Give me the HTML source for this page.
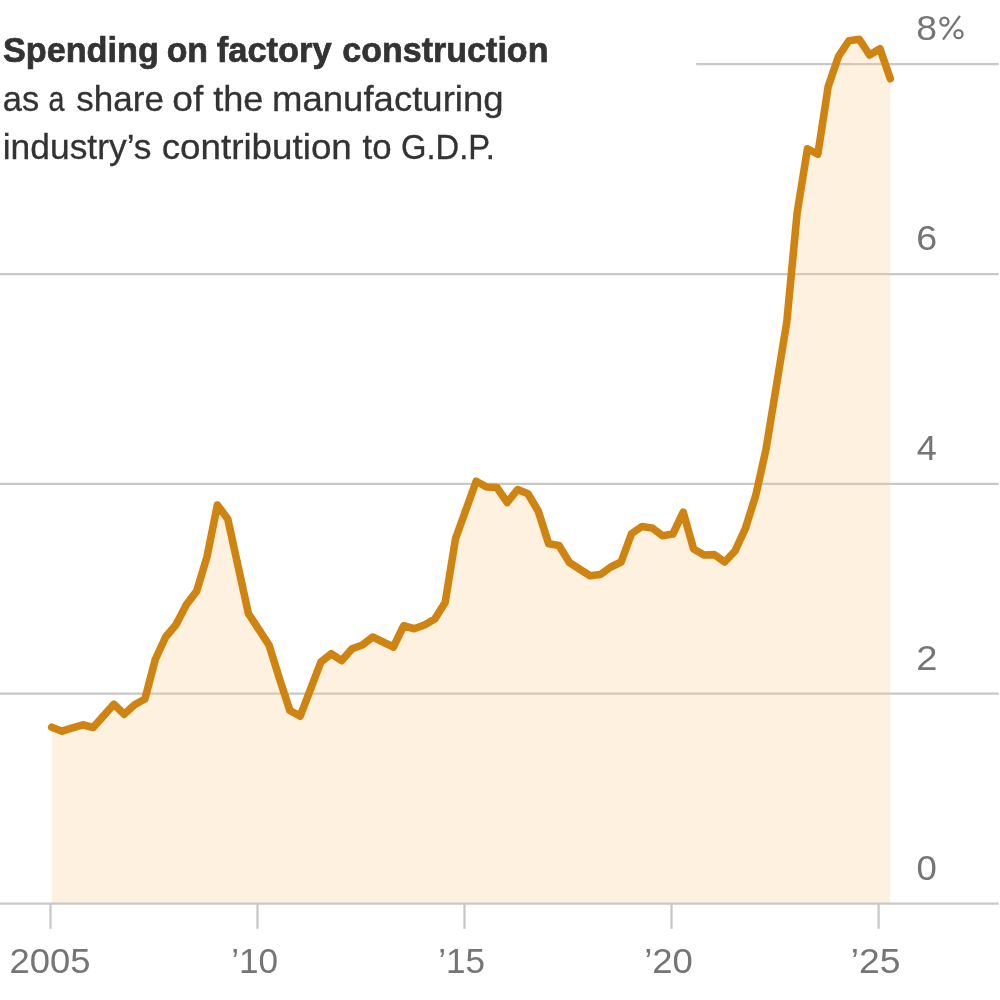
<!DOCTYPE html>
<html><head><meta charset="utf-8"><title>Spending on factory construction</title>
<style>
html,body{margin:0;padding:0;background:#fff;}
body{width:1000px;height:1000px;position:relative;overflow:hidden;font-family:"Liberation Sans",sans-serif;}
svg{position:absolute;left:0;top:0;}
.t{position:absolute;left:0;top:0;white-space:nowrap;transform-origin:0 0;line-height:40px;}
#txt{position:absolute;left:0;top:0;width:1000px;height:1000px;will-change:transform;}
</style></head><body>
<svg width="1000" height="1000" viewBox="0 0 1000 1000">
<g stroke="#c8c8c8" stroke-width="2.3" fill="none">
<line x1="696.2" y1="64.2" x2="998.8" y2="64.2"/>
<line x1="0" y1="274.2" x2="998.8" y2="274.2"/>
<line x1="0" y1="483.8" x2="998.8" y2="483.8"/>
<line x1="0" y1="693.7" x2="998.8" y2="693.7"/>
</g>
<path d="M51.75,727.2 L62.1,731.2 L72.45,727.9 L82.81,724.8 L93.16,727.5 L103.51,715.9 L113.86,704.3 L124.22,714.2 L134.57,704.8 L144.92,699.0 L155.27,659.5 L165.63,637 L175.98,624.7 L186.33,604.7 L196.69,591.1 L207.04,556.5 L217.39,505 L227.74,518.9 L238.09,566.2 L248.45,613.7 L258.8,629.3 L269.15,645.3 L279.5,678.75 L289.86,710.5 L300.21,716.2 L310.56,689.2 L320.91,662 L331.27,653.75 L341.62,660.7 L351.97,648.75 L362.32,645 L372.68,637 L383.03,642 L393.38,647 L403.73,625.75 L414.09,628.75 L424.44,625 L434.79,619 L445.14,602.5 L455.5,538.75 L465.85,510 L476.2,481.25 L486.55,487 L496.91,487.5 L507.26,502.5 L517.61,489.5 L527.96,493.75 L538.32,511.25 L548.67,543.75 L559.02,545.5 L569.38,562.5 L579.73,569.25 L590.08,575.75 L600.43,574.5 L610.78,567 L621.14,562 L631.49,533.75 L641.84,526.5 L652.19,528 L662.55,535.7 L672.9,534 L683.25,512.2 L693.6,549 L703.96,555 L714.31,554.6 L724.66,562 L735.01,551 L745.37,528.5 L755.72,495.5 L766.07,449 L776.42,385.5 L786.78,322 L797.13,213 L807.48,148.75 L817.83,154.25 L828.19,86.5 L838.54,56.25 L848.89,40.75 L859.24,39.25 L869.6,55 L879.95,48.75 L890.3,78.75 L890.3,903.7 L51.75,903.7 Z" fill="#ffc885" fill-opacity="0.255" stroke="none"/>
<g stroke="#c8c8c8" stroke-width="2.3" fill="none">
<line x1="0" y1="903.7" x2="998.8" y2="903.7"/>
<line x1="50.5" y1="903" x2="50.5" y2="928.8"/>
<line x1="257.5" y1="903" x2="257.5" y2="928.8"/>
<line x1="464.5" y1="903" x2="464.5" y2="928.8"/>
<line x1="671.5" y1="903" x2="671.5" y2="928.8"/>
<line x1="878.6" y1="903" x2="878.6" y2="928.8"/>
</g>
<path d="M51.75,727.2 L62.1,731.2 L72.45,727.9 L82.81,724.8 L93.16,727.5 L103.51,715.9 L113.86,704.3 L124.22,714.2 L134.57,704.8 L144.92,699.0 L155.27,659.5 L165.63,637 L175.98,624.7 L186.33,604.7 L196.69,591.1 L207.04,556.5 L217.39,505 L227.74,518.9 L238.09,566.2 L248.45,613.7 L258.8,629.3 L269.15,645.3 L279.5,678.75 L289.86,710.5 L300.21,716.2 L310.56,689.2 L320.91,662 L331.27,653.75 L341.62,660.7 L351.97,648.75 L362.32,645 L372.68,637 L383.03,642 L393.38,647 L403.73,625.75 L414.09,628.75 L424.44,625 L434.79,619 L445.14,602.5 L455.5,538.75 L465.85,510 L476.2,481.25 L486.55,487 L496.91,487.5 L507.26,502.5 L517.61,489.5 L527.96,493.75 L538.32,511.25 L548.67,543.75 L559.02,545.5 L569.38,562.5 L579.73,569.25 L590.08,575.75 L600.43,574.5 L610.78,567 L621.14,562 L631.49,533.75 L641.84,526.5 L652.19,528 L662.55,535.7 L672.9,534 L683.25,512.2 L693.6,549 L703.96,555 L714.31,554.6 L724.66,562 L735.01,551 L745.37,528.5 L755.72,495.5 L766.07,449 L776.42,385.5 L786.78,322 L797.13,213 L807.48,148.75 L817.83,154.25 L828.19,86.5 L838.54,56.25 L848.89,40.75 L859.24,39.25 L869.6,55 L879.95,48.75 L890.3,78.75" fill="none" stroke="#cf8412" stroke-width="7.6" stroke-linejoin="round" stroke-linecap="round"/>
<g id="pct" fill="none" stroke="#757575">
<circle cx="944.4" cy="21.6" r="4.05" stroke-width="2.3"/>
<circle cx="958.5" cy="34.15" r="4.05" stroke-width="2.3"/>
<line x1="959.9" y1="15.9" x2="943.0" y2="39.7" stroke-width="2.3"/>
</g>
</svg>
<div id="txt">
<div class="t" id="w1" style="font-size:35px;font-weight:bold;color:#333333;-webkit-text-stroke:0.7px #333333;transform:translate(2.91px,30.45px) scaleX(0.9783);">Spending</div>
<div class="t" id="w2" style="font-size:35px;font-weight:bold;color:#333333;-webkit-text-stroke:0.7px #333333;transform:translate(166.68px,30.45px) scaleX(0.9675);">on</div>
<div class="t" id="w3" style="font-size:35px;font-weight:bold;color:#333333;-webkit-text-stroke:0.7px #333333;transform:translate(216.75px,30.45px) scaleX(0.9850);">factory</div>
<div class="t" id="w4" style="font-size:35px;font-weight:bold;color:#333333;-webkit-text-stroke:0.7px #333333;transform:translate(342.23px,30.45px) scaleX(0.9730);">construction</div>
<div class="t" id="w5" style="font-size:35px;font-weight:normal;color:#333333;-webkit-text-stroke:0.3px #333333;transform:translate(2.77px,78.70px) scaleX(0.9855);">as</div>
<div class="t" id="w6" style="font-size:35px;font-weight:normal;color:#333333;-webkit-text-stroke:0.3px #333333;transform:translate(48.39px,78.70px) scaleX(0.8195);">a</div>
<div class="t" id="w7" style="font-size:35px;font-weight:normal;color:#333333;-webkit-text-stroke:0.3px #333333;transform:translate(76.25px,78.70px) scaleX(1.0012);">share</div>
<div class="t" id="w8" style="font-size:35px;font-weight:normal;color:#333333;-webkit-text-stroke:0.3px #333333;transform:translate(172.31px,78.70px) scaleX(1.0626);">of</div>
<div class="t" id="w9" style="font-size:35px;font-weight:normal;color:#333333;-webkit-text-stroke:0.3px #333333;transform:translate(213.13px,78.70px) scaleX(1.0342);">the</div>
<div class="t" id="w10" style="font-size:35px;font-weight:normal;color:#333333;-webkit-text-stroke:0.3px #333333;transform:translate(272.00px,78.70px) scaleX(1.0441);">manufacturing</div>
<div class="t" id="w11" style="font-size:35px;font-weight:normal;color:#333333;-webkit-text-stroke:0.3px #333333;transform:translate(2.72px,126.70px) scaleX(1.0111);">industry’s</div>
<div class="t" id="w12" style="font-size:35px;font-weight:normal;color:#333333;-webkit-text-stroke:0.3px #333333;transform:translate(161.69px,126.70px) scaleX(1.0507);">contribution</div>
<div class="t" id="w13" style="font-size:35px;font-weight:normal;color:#333333;-webkit-text-stroke:0.3px #333333;transform:translate(362.60px,126.70px) scaleX(0.9946);">to</div>
<div class="t" id="w14" style="font-size:35px;font-weight:normal;color:#333333;-webkit-text-stroke:0.3px #333333;transform:translate(400.95px,126.70px) scaleX(0.9354);">G.D.P.</div>
<div class="t" id="y8" style="font-size:35.5px;font-weight:normal;color:#757575;transform:translate(916.14px,7.88px) scaleX(1.0511);">8</div>
<div class="t" id="y6" style="font-size:35.5px;font-weight:normal;color:#757575;transform:translate(916.14px,217.73px) scaleX(1.0606);">6</div>
<div class="t" id="y4" style="font-size:35.5px;font-weight:normal;color:#757575;transform:translate(916.74px,427.70px) scaleX(1.0168);">4</div>
<div class="t" id="y2" style="font-size:35.5px;font-weight:normal;color:#757575;transform:translate(916.14px,637.80px) scaleX(1.0739);">2</div>
<div class="t" id="y0" style="font-size:35.5px;font-weight:normal;color:#757575;transform:translate(916.53px,847.72px) scaleX(1.0301);">0</div>
<div class="t" id="x05" style="font-size:35.5px;font-weight:normal;color:#757575;transform:translate(9.56px,940.60px) scaleX(1.0244);">2005</div>
<div class="t" id="x10" style="font-size:35.5px;font-weight:normal;color:#757575;transform:translate(231.13px,940.60px) scaleX(0.9898);">’10</div>
<div class="t" id="x15" style="font-size:35.5px;font-weight:normal;color:#757575;transform:translate(438.13px,940.60px) scaleX(0.9897);">’15</div>
<div class="t" id="x20" style="font-size:35.5px;font-weight:normal;color:#757575;transform:translate(644.19px,940.60px) scaleX(1.0286);">’20</div>
<div class="t" id="x25" style="font-size:35.5px;font-weight:normal;color:#757575;transform:translate(850.63px,940.60px) scaleX(1.0514);">’25</div>
</div>
</body></html>
